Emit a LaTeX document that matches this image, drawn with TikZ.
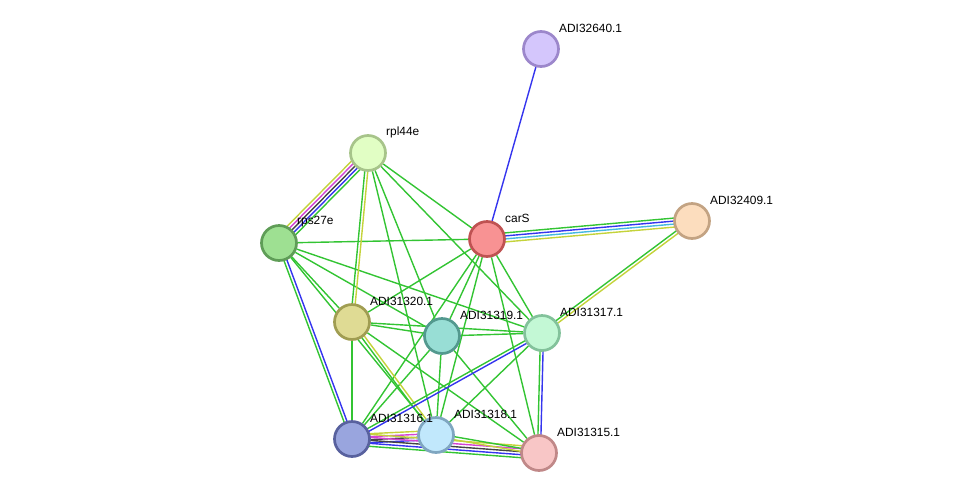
\documentclass[tikz,border=0pt]{standalone}
\usepackage{fontspec}
\setmainfont{Liberation Sans}
\usetikzlibrary{calc,backgrounds}

\definecolor{evgreen}{HTML}{33C433}
\definecolor{evyellow}{HTML}{C4D33A}
\definecolor{evmagenta}{HTML}{D443D4}
\definecolor{evdark}{HTML}{444444}
\definecolor{evblue}{HTML}{3535EE}
\definecolor{evcyan}{HTML}{45B8E0}

\tikzset{
  prot/.style={circle, minimum size=35pt, inner sep=0pt, line width=2.7pt},
  lbl/.style={anchor=west, inner sep=0pt, font=\fontsize{11.9}{14}\selectfont},
  wire/.style={line width=1.4pt},
}

% parallel evidence lines between two proteins
\newcommand{\evlink}[3]{%
  \foreach \c/\o in {#3}
    \draw[wire, \c] ($(#1)!\o pt!90:(#2)$) -- ($(#2)!\o pt!-90:(#1)$);
}

\begin{document}
\begin{tikzpicture}[x=1pt, y=-1pt]
	\useasboundingbox (0,0) rectangle (975,499);

	\node[prot, fill={rgb,255:red,212;green,198;blue,252}, draw={rgb,255:red,156;green,135;blue,203}] (adi32640) at (541, 49) {};
	\node[prot, fill={rgb,255:red,225;green,254;blue,196}, draw={rgb,255:red,167;green,196;blue,138}] (rpl44e) at (368, 153) {};
	\node[prot, fill={rgb,255:red,248;green,146;blue,147}, draw={rgb,255:red,191;green,82;blue,82}] (carS) at (487, 239) {};
	\node[prot, fill={rgb,255:red,252;green,221;blue,190}, draw={rgb,255:red,195;green,163;blue,131}] (adi32409) at (692, 221) {};
	\node[prot, fill={rgb,255:red,158;green,224;blue,146}, draw={rgb,255:red,95;green,157;blue,87}] (rps27e) at (279, 243) {};
	\node[prot, fill={rgb,255:red,223;green,219;blue,148}, draw={rgb,255:red,160;green,157;blue,82}] (adi31320) at (352, 322) {};
	\node[prot, fill={rgb,255:red,152;green,222;blue,213}, draw={rgb,255:red,83;green,153;blue,143}] (adi31319) at (442, 336) {};
	\node[prot, fill={rgb,255:red,195;green,248;blue,213}, draw={rgb,255:red,131;green,194;blue,155}] (adi31317) at (542, 333) {};
	\node[prot, fill={rgb,255:red,153;green,165;blue,222}, draw={rgb,255:red,88;green,97;blue,158}] (adi31316) at (352, 439) {};
	\node[prot, fill={rgb,255:red,193;green,232;blue,252}, draw={rgb,255:red,127;green,166;blue,192}] (adi31318) at (436, 435) {};
	\node[prot, fill={rgb,255:red,248;green,198;blue,198}, draw={rgb,255:red,192;green,136;blue,136}] (adi31315) at (539, 453) {};

	\node[lbl] (adi32640-l) at ($(adi32640) + (18, -21)$) {ADI32640.1};
	\node[lbl] (rpl44e-l) at ($(rpl44e) + (18, -21)$) {rpl44e};
	\node[lbl] (carS-l) at ($(carS) + (18, -21)$) {carS};
	\node[lbl] (adi32409-l) at ($(adi32409) + (18, -21)$) {ADI32409.1};
	\node[lbl] (rps27e-l) at ($(rps27e) + (18, -21)$) {rps27e};
	\node[lbl] (adi31320-l) at ($(adi31320) + (18, -21)$) {ADI31320.1};
	\node[lbl] (adi31319-l) at ($(adi31319) + (18, -21)$) {ADI31319.1};
	\node[lbl] (adi31317-l) at ($(adi31317) + (18, -21)$) {ADI31317.1};
	\node[lbl] (adi31316-l) at ($(adi31316) + (18, -21)$) {ADI31316.1};
	\node[lbl] (adi31318-l) at ($(adi31318) + (18, -21)$) {ADI31318.1};
	\node[lbl] (adi31315-l) at ($(adi31315) + (18, -21)$) {ADI31315.1};

	\begin{pgfonlayer}{background}
		% single green links
		\foreach \a/\b in {rpl44e/carS, rpl44e/adi31319, rpl44e/adi31318, rpl44e/adi31317,
			rps27e/carS, rps27e/adi31320, rps27e/adi31318, rps27e/adi31319, rps27e/adi31317,
			carS/adi31320, carS/adi31319, carS/adi31317, carS/adi31316, carS/adi31318, carS/adi31315,
			adi31320/adi31319, adi31320/adi31317, adi31320/adi31316, adi31320/adi31315,
			adi31319/adi31317, adi31319/adi31316, adi31319/adi31318, adi31319/adi31315,
			adi31317/adi31318}
			\draw[wire, evgreen] (\a) -- (\b);

		\draw[wire, evblue] (adi32640) -- (carS);
		\evlink{rpl44e}{rps27e}{evyellow/-6, evmagenta/-3, evdark/0, evblue/3, evgreen/6}
		\evlink{rpl44e}{adi31320}{evgreen/-1.5, evyellow/1.5}
		\evlink{carS}{adi32409}{evgreen/4.5, evblue/1.5, evcyan/-1.5, evyellow/-4.5}
		\evlink{adi32409}{adi31317}{evgreen/-1.5, evyellow/1.5}
		\evlink{rps27e}{adi31316}{evgreen/-1.5, evblue/1.5}
		\evlink{adi31320}{adi31318}{evgreen/-1.5, evyellow/1.5}
		\evlink{adi31317}{adi31316}{evgreen/-1.5, evblue/1.5}
		\evlink{adi31317}{adi31315}{evgreen/-1.5, evblue/1.5}
		\evlink{adi31316}{adi31318}{evyellow/4.5, evmagenta/1.5, evdark/-1.5, evblue/-4.5}
		\evlink{adi31316}{adi31315}{evyellow/6, evmagenta/3, evdark/0, evblue/-3, evgreen/-6}
		\evlink{adi31318}{adi31315}{evgreen/1.5, evyellow/-1.5}
	\end{pgfonlayer}
\end{tikzpicture}
\end{document}
